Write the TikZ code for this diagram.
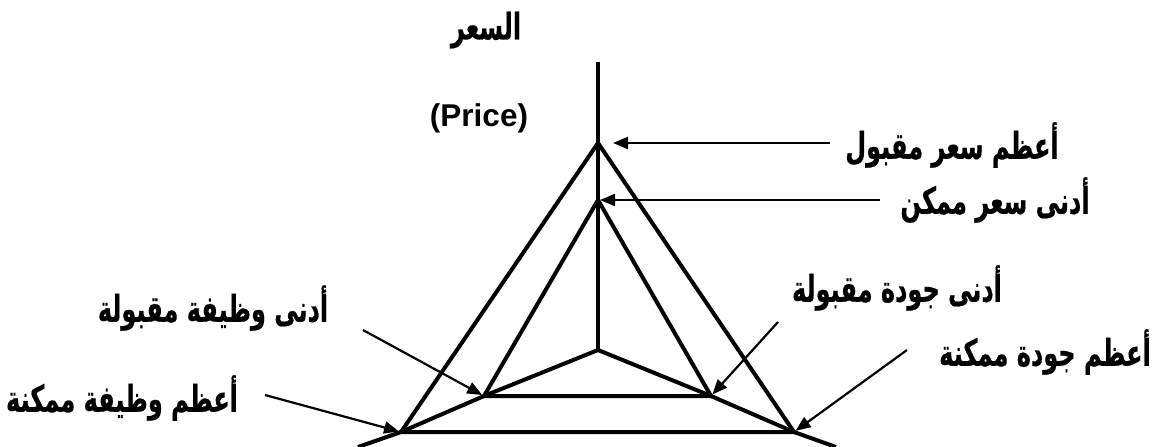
\documentclass[tikz,border=0pt]{standalone}
\usepackage{fontspec}
\setmainfont{Liberation Sans}
\newfontfamily\arabicfont[Script=Arabic, BoldFeatures={FakeBold=0.6}]{DejaVu Sans}
\TeXXeTstate=1
\usetikzlibrary{arrows.meta,positioning}
\newcommand{\artext}[1]{\scalebox{0.75}[1.15]{\arabicfont\bfseries\beginR #1\endR}}

\begin{document}
\begin{tikzpicture}[x=1pt, y=-1pt,
  edge/.style={line width=4pt},
  arrow/.style={-{Triangle[length=15pt,width=12pt]}, line width=2.2pt},
  label/.style={font=\fontsize{32}{34}\selectfont\bfseries, inner sep=0pt}
]
  \useasboundingbox (0,0) rectangle (1157,447);

  % Points of the axes and triangles
  \coordinate (top) at (598,62);
  \coordinate (c) at (598,350);
  \coordinate (pmax) at (598,143);
  \coordinate (pmin) at (598,200);
  \coordinate (fmin) at (484,396);
  \coordinate (qmin) at (711,396);
  \coordinate (fmax) at (401,432);
  \coordinate (qmax) at (794,432);
  \coordinate (fend) at (358,447);
  \coordinate (qend) at (836,447);

  % Axes and triangles
  \draw[edge] (top) -- (c);
  \draw[edge] (fend) -- (fmax) -- (fmin) -- (c) -- (qmin) -- (qmax) -- (qend);
  \draw[edge] (pmin) -- (fmin) -- (qmin) -- cycle;
  \draw[edge] (pmax) -- (fmax) -- (qmax) -- cycle;

  % Labels
  \node[label] (price) at (486,30) {\artext{السعر}};
  \node[label, font=\fontsize{31.5}{33}\selectfont\bfseries] (priceen) at (479,118) {(Price)};
  \node[label] (lpmax) at (952,145) {\artext{أعظم سعر مقبول}};
  \node[label] (lpmin) at (995,200) {\artext{أدنى سعر ممكن}};
  \node[label] (lfmin) at (213,308) {\artext{أدنى وظيفة مقبولة}};
  \node[label] (lfmax) at (122,398) {\artext{أعظم وظيفة ممكنة}};
  \node[label] (lqmin) at (897,288) {\artext{أدنى جودة مقبولة}};
  \node[label] (lqmax) at (1045,352) {\artext{أعظم جودة ممكنة}};

  % Arrow tails
  \coordinate (t1) at (830,143);
  \coordinate (t2) at (880,200);
  \coordinate (t3) at (363,330);
  \coordinate (t4) at (265,395);
  \coordinate (t5) at (778,322);
  \coordinate (t6) at (907,350);

  % Arrows
  \draw[arrow, shorten >=15pt] (t1) -- (pmax);
  \draw[arrow, shorten >=2pt] (t2) -- (pmin);
  \foreach \a/\b in {t3/fmin, t4/fmax, t5/qmin, t6/qmax} {
    \draw[arrow, shorten >=2pt] (\a) -- (\b);
  }
\end{tikzpicture}
\end{document}
